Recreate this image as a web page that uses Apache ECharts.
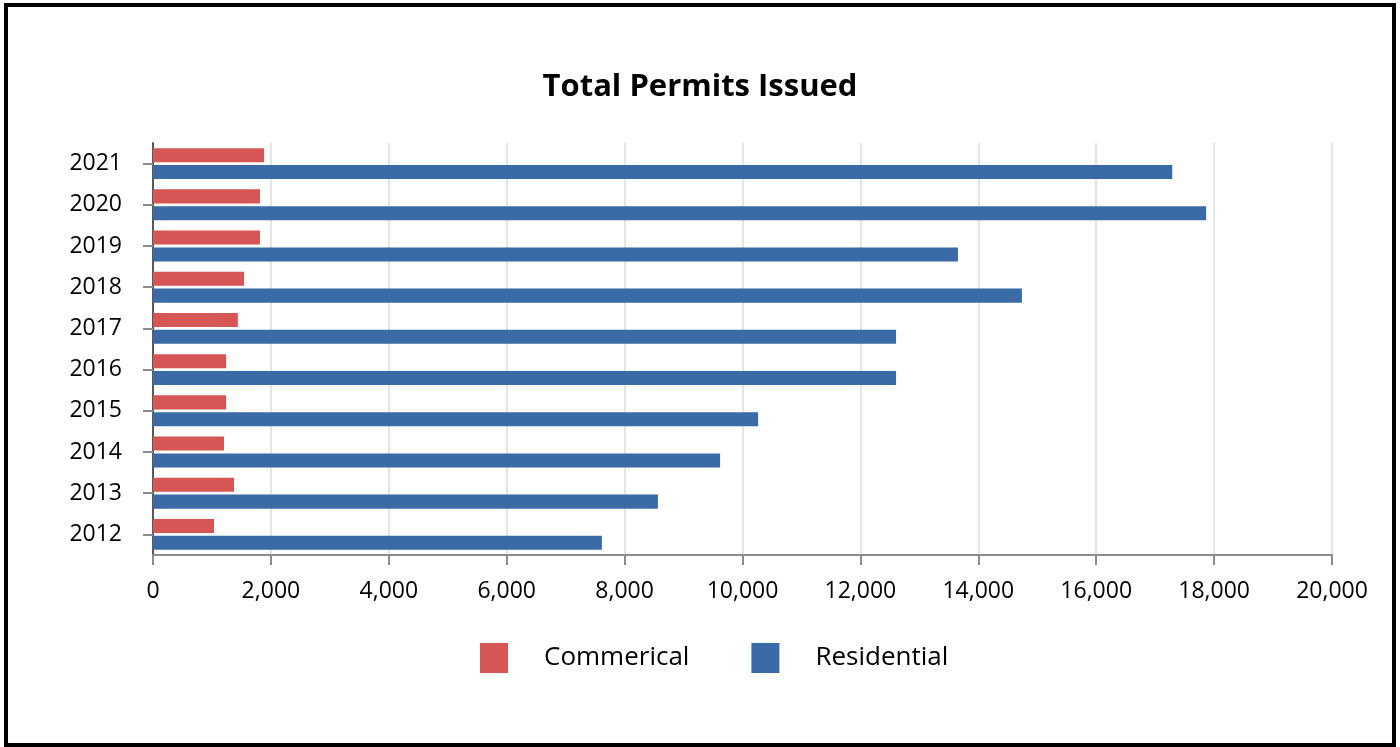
<!DOCTYPE html>
<html>
<head>
<meta charset="utf-8">
<script src="https://cdn.jsdelivr.net/npm/echarts@6/dist/echarts.min.js"></script>
<style>
  html, body { margin: 0; padding: 0; background: #fff; }
  #chart { width: 1400px; height: 747px; }
</style>
</head>
<body>
<div id="chart"></div>
<script>
// data
const years = ["2012", "2013", "2014", "2015", "2016", "2017", "2018", "2019", "2020", "2021"];
const commercial = [1035, 1375, 1205, 1240, 1240, 1440, 1545, 1815, 1815, 1885];
const residential = [7615, 8565, 9620, 10265, 12605, 12605, 14740, 13655, 17865, 17290];

const font = "'Open Sans', 'DejaVu Sans', sans-serif";

const chart = echarts.init(document.getElementById("chart"));

const option = {
  animation: false,
  backgroundColor: "#fff",
  textStyle: { fontFamily: font },
  title: {
    text: "Total Permits Issued",
    left: "center",
    top: 67,
    textStyle: { fontFamily: font, fontSize: 31, fontWeight: "bold", color: "#000" }
  },
  // outer frame
  graphic: [
    {
      type: "rect",
      shape: { x: 6, y: 5, width: 1388, height: 740 },
      style: { fill: null, stroke: "#000", lineWidth: 4 },
      silent: true
    }
  ],
  legend: {
    data: ["Commerical", "Residential"],
    bottom: 69,
    left: 475,
    itemWidth: 28,
    itemHeight: 30,
    itemGap: 62,
    icon: "rect",
    textStyle: { fontFamily: font, fontSize: 26, color: "#000", padding: [0, 0, 0, 31] }
  },
  grid: { left: 153, right: 68, top: 143, bottom: 192, containLabel: false },
  xAxis: {
    type: "value",
    min: 0,
    max: 20000,
    interval: 2000,
    axisLine: { show: true, lineStyle: { color: "#8c8c8c", width: 2 } },
    axisTick: { show: true, length: 10, lineStyle: { color: "#8c8c8c", width: 2 } },
    axisLabel: {
      margin: 25,
      fontSize: 23,
      color: "#000",
      fontFamily: font,
      formatter: v => v.toLocaleString("en-US")
    },
    splitLine: { show: true, lineStyle: { color: "#dcdcdc", width: 1.5 } }
  },
  yAxis: {
    type: "category",
    data: years,
    axisLine: { show: true, lineStyle: { color: "#595959", width: 2 } },
    axisTick: { show: true, alignWithLabel: true, length: 10, lineStyle: { color: "#8c8c8c", width: 2 } },
    axisLabel: { margin: 31, fontSize: 23, color: "#000", fontFamily: font, padding: [4, 0, 0, 0] }
  },
  series: [
    {
      name: "Commerical",
      type: "bar",
      data: commercial,
      itemStyle: { color: "#d65656" },
      barGap: "20%",
      barCategoryGap: "25%"
    },
    {
      name: "Residential",
      type: "bar",
      data: residential,
      itemStyle: { color: "#3a6ba7" },
      barGap: "20%",
      barCategoryGap: "25%"
    }
  ]
};

chart.setOption(option);
</script>
</body>
</html>
